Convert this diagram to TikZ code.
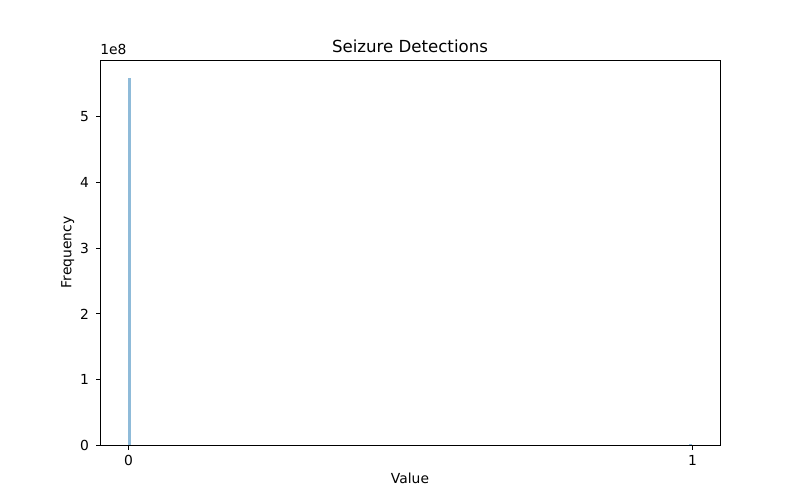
\documentclass[tikz,border=0pt]{standalone}
\usepackage{fontspec}
\setmainfont{DejaVu Sans}
\definecolor{barblue}{RGB}{143,187,217}
\begin{document}
\begin{tikzpicture}[x=0.01in,y=-0.01in,
  spine/.style={line width=0.8pt,line cap=rect},
  tick/.style={line width=0.8pt},
  ticklab/.style={font=\fontsize{10}{12}\selectfont,inner sep=0pt},
  bar/.style={fill=barblue,draw=none}]
\useasboundingbox (0,0) rectangle (800,500);
% bars
\fill[bar] (128.2,445) rectangle (131.0,78.3);
\fill[bar] (689.4,445) rectangle (692.2,444.0);
% axes
\draw[spine] (100.5,60.5) rectangle (720.5,445.5);
% x ticks
\foreach \v/\x in {0/128.5,1/692.5} {
  \draw[tick] (\x,445.5) -- (\x,450.4);
  \node[ticklab,anchor=north] (xt\v) at (\x,454.7) {\v};
}
% y ticks
\foreach \v in {0,...,5} {
  \pgfmathsetmacro{\yy}{445.5-65.8*\v}
  \draw[tick] (100.5,\yy) -- (95.6,\yy);
  \node[ticklab,anchor=east] (yt\v) at (89.3,\yy) {\v};
}
\node[ticklab,anchor=south west] (mult) at (100,55) {1e8};
\node[ticklab,anchor=south] (title) at (410,53.5) {\fontsize{12}{14}\selectfont Seizure Detections};
\node[ticklab,anchor=north] (xlab) at (410,473) {Value};
\node[ticklab,anchor=south,rotate=90] (ylab) at (74.5,252.5) {Frequency};
\end{tikzpicture}
\end{document}
